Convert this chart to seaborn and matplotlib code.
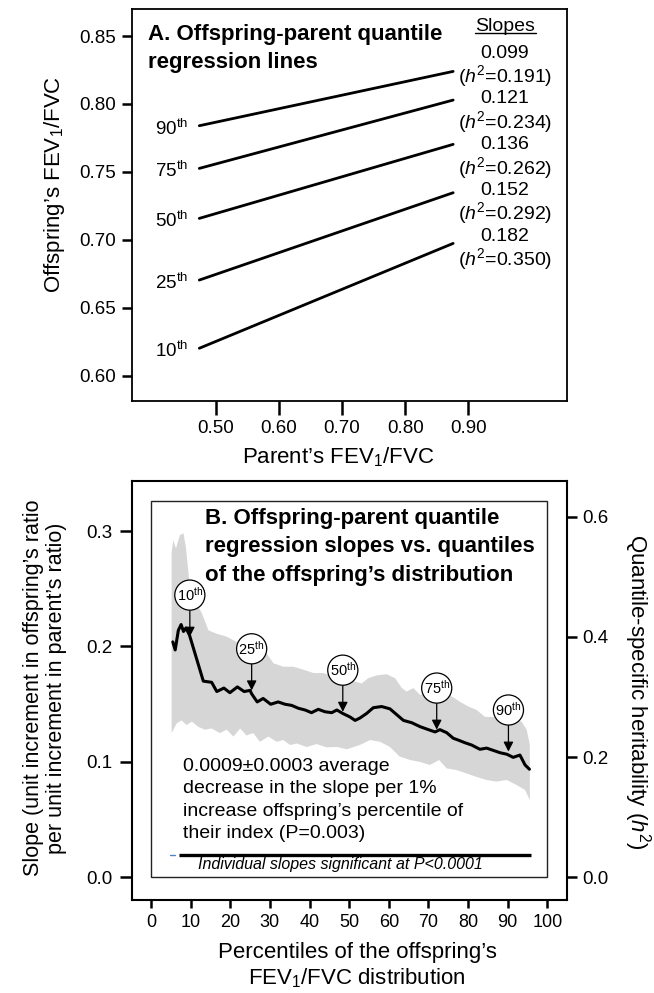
"""Offspring-parent quantile regression figure (panels A and B)."""

import numpy as np
import pandas as pd
import matplotlib
matplotlib.use('Agg')
import matplotlib.pyplot as plt
from matplotlib.patches import Rectangle
import seaborn as sns

# panel A: quantile regression lines
quantiles = ['10', '25', '50', '75', '90']
parent_range = [0.474, 0.876]
offspring_start = [0.6202, 0.6704, 0.7158, 0.7526, 0.7840]
offspring_end = [0.6974, 0.7347, 0.7703, 0.8029, 0.8240]
slope_labels = ['0.182', '0.152', '0.136', '0.121', '0.099']
h2_labels = ['0.350', '0.292', '0.262', '0.234', '0.191']

# panel B: slope vs percentile with its band
pct = [5.5, 6.1, 6.9, 7.6, 8.2, 8.8, 9.7, 11.1, 13.2, 15.3, 16.6, 18.4, 19.9, 21.8,
       23.5, 25.0, 25.4, 26.8, 28.3, 30.2, 32.1, 33.8, 35.5, 37.2, 38.9, 40.5, 42.2,
       43.9, 45.6, 46.9, 48.4, 50.2, 51.5, 52.7, 54.4, 56.1, 58.2, 60.3, 62.0, 63.7,
       65.8, 67.9, 70.0, 71.7, 72.9, 74.6, 76.3, 77.5, 79.2, 80.9, 83.0, 84.7, 86.4,
       88.1, 89.8, 91.4, 93.1, 94.4, 95.5]
slope = [0.204, 0.197, 0.214, 0.219, 0.213, 0.216, 0.210, 0.194, 0.170, 0.169, 0.161,
         0.164, 0.160, 0.165, 0.161, 0.162, 0.159, 0.152, 0.155, 0.150, 0.152, 0.150,
         0.149, 0.1465, 0.145, 0.1427, 0.1456, 0.1435, 0.1427, 0.145, 0.142, 0.139,
         0.136, 0.138, 0.142, 0.147, 0.148, 0.146, 0.141, 0.136, 0.134, 0.1306, 0.128,
         0.126, 0.128, 0.1254, 0.1205, 0.119, 0.1167, 0.1147, 0.111, 0.112, 0.110,
         0.108, 0.1067, 0.104, 0.106, 0.0974, 0.0937]

upper_pct = [5.2, 5.6, 6.3, 7.3, 8.2, 8.8, 9.8, 11.5, 12.8, 14.5, 16.6, 19.1, 21.6, 24.1,
             26.7, 29.2, 30.9, 33.4, 35.9, 38.4, 41.0, 43.5, 46.0, 48.5, 51.0, 53.2, 54.8,
             57.0, 59.5, 61.6, 63.3, 64.5, 66.2, 67.9, 70.0, 72.0, 74.0, 76.3, 78.0, 80.1,
             82.2, 84.3, 86.4, 88.1, 91.4, 93.5, 94.8, 95.6]
upper = [0.281, 0.292, 0.285, 0.2965, 0.298, 0.286, 0.252, 0.237, 0.229, 0.214, 0.211,
         0.2085, 0.204, 0.201, 0.200, 0.194, 0.1855, 0.1825, 0.1825, 0.180, 0.177, 0.177,
         0.174, 0.175, 0.170, 0.168, 0.1725, 0.175, 0.176, 0.1725, 0.164, 0.161, 0.164,
         0.158, 0.160, 0.163, 0.160, 0.156, 0.152, 0.148, 0.145, 0.139, 0.139, 0.135,
         0.136, 0.135, 0.128, 0.115]
lower_pct = [5.2, 6.5, 7.7, 9.0, 10.3, 11.9, 13.6, 15.3, 17.4, 19.1, 20.8, 22.5, 24.1, 25.8,
             27.5, 29.6, 31.7, 33.4, 35.1, 36.8, 39.3, 41.8, 44.3, 46.9, 49.4, 52.7, 55.3,
             57.8, 60.3, 62.8, 65.4, 67.9, 70.4, 72.7, 74.6, 77.1, 79.7, 82.2, 84.7, 87.2,
             89.8, 92.3, 94.4, 95.6]
lower = [0.125, 0.1335, 0.136, 0.132, 0.135, 0.1305, 0.128, 0.129, 0.125, 0.128, 0.122,
         0.129, 0.123, 0.125, 0.1175, 0.122, 0.1175, 0.119, 0.1147, 0.116, 0.113, 0.1155,
         0.1127, 0.113, 0.111, 0.1147, 0.119, 0.1175, 0.113, 0.1046, 0.1017, 0.100,
         0.0974, 0.1017, 0.0945, 0.093, 0.090, 0.087, 0.0844, 0.083, 0.0844, 0.080,
         0.0758, 0.067]

marker_labels = ['10', '25', '50', '75', '90']
marker_x = [9.8, 25.4, 48.4, 72.1, 90.2]
marker_y = [0.2085, 0.162, 0.1435, 0.128, 0.109]
sig_range = [7.1, 95.8]
h2_factor = 1.921

sns.set_style('ticks')
plt.rcParams['font.family'] = ['Liberation Sans', 'DejaVu Sans']
plt.rcParams.update({
    'mathtext.fontset': 'custom',
    'mathtext.rm': 'Liberation Sans',
    'mathtext.it': 'Liberation Sans:italic',
    'mathtext.bf': 'Liberation Sans:bold',
    'axes.edgecolor': 'black', 'xtick.color': 'black', 'ytick.color': 'black',
    'text.color': 'black', 'axes.labelcolor': 'black',
})

fig = plt.figure(figsize=(6.54, 9.93), dpi=100)
axA = fig.add_axes([0.2023, 0.5962, 0.6647, 0.3947])
axB = fig.add_axes([0.2023, 0.0937, 0.6651, 0.4219])

### Panel A ###
rows = []
for q, y0, y1 in zip(quantiles, offspring_start, offspring_end):
    rows.append({'quantile': q, 'parent': parent_range[0], 'offspring': y0})
    rows.append({'quantile': q, 'parent': parent_range[1], 'offspring': y1})
lines = pd.DataFrame(rows)
sns.lineplot(data=lines, x='parent', y='offspring', hue='quantile',
             palette=['black'] * len(quantiles), lw=2.0, legend=False, ax=axA)

axA.set_xlim(0.3679, 1.0563)
axA.set_ylim(0.5814, 0.8699)
axA.set_xticks([0.5, 0.6, 0.7, 0.8, 0.9])
axA.set_xticklabels(['0.50', '0.60', '0.70', '0.80', '0.90'])
axA.set_yticks([0.60, 0.65, 0.70, 0.75, 0.80, 0.85])
axA.set_yticklabels(['0.60', '0.65', '0.70', '0.75', '0.80', '0.85'])
axA.tick_params(axis='y', direction='out', length=7.2, width=1.8, pad=4.5, labelsize=13.5)
axA.tick_params(axis='x', direction='out', length=10, width=1.8, pad=3.5, labelsize=13.5)
axA.set_xlabel('')
axA.set_ylabel('')
for sp in axA.spines.values():
    sp.set_linewidth(1.3)

for q, y0 in zip(quantiles, offspring_start):
    axA.text(0.456, y0 - 0.002, q + r'$^{\rm th}$', ha='right', va='center', fontsize=13.5)

axA.text(0.0368, 0.899, 'A. Offspring-parent quantile\nregression lines', transform=axA.transAxes,
         ha='left', va='center', fontsize=16, fontweight='bold', linespacing=1.45)

col_x = 0.857
axA.text(col_x, (401 - 26) / 392, 'Slopes', transform=axA.transAxes, ha='center', va='center',
         fontsize=14)
axA.plot([0.788, 0.929], [0.939, 0.939], transform=axA.transAxes, color='black', lw=1.0)
for i, (s, h) in enumerate(zip(slope_labels[::-1], h2_labels[::-1])):
    py = 53 + 45.8 * i
    axA.text(col_x, (401 - py) / 392, s, transform=axA.transAxes, ha='center', va='center',
             fontsize=14)
    axA.text(col_x, (401 - py - 23) / 392, r'($\mathit{h}^{2}$=' + h + ')', transform=axA.transAxes,
             ha='center', va='center', fontsize=14)

fig.text(0.084, 0.8147, r'Offspring’s FEV$_{1}$/FVC', rotation=90, ha='center', va='center',
         fontsize=16)
fig.text(0.517, 0.5398, r'Parent’s FEV$_{1}$/FVC', ha='center', va='center', fontsize=16)

### Panel B ###
band_x = np.r_[upper_pct, lower_pct[::-1]]
band_y = np.r_[upper, lower[::-1]]
axB.fill(band_x, band_y, color='#d6d6d6', lw=0, zorder=1)
sns.lineplot(x=pct, y=slope, sort=False, estimator=None, color='black', lw=2.2, ax=axB, zorder=3)

axB.add_patch(Rectangle((0, 0), 100, 0.326, fill=False, ec='#222222', lw=1.0, zorder=2))
axB.plot(sig_range, [0.0195, 0.0195], color='black', lw=2.4, solid_capstyle='butt', zorder=3)
axB.plot([4.8, 6.1], [0.0195, 0.0195], color='#4f86c6', lw=1.0, zorder=3)
axB.text(47.7, 0.0108, 'Individual slopes significant at P<0.0001', ha='center', va='center',
         fontsize=11.5, style='italic')

for lab, tx, ty in zip(marker_labels, marker_x, marker_y):
    axB.annotate(lab + r'$^{\rm th}$', xy=(tx, ty), xytext=(tx, ty + 0.036), ha='center',
                 va='center', fontsize=10.5, zorder=5,
                 bbox=dict(boxstyle='circle,pad=0.13', fc='white', ec='black', lw=0.9),
                 arrowprops=dict(arrowstyle='-|>,head_length=0.55,head_width=0.28', color='black',
                                 lw=0.9, shrinkA=0, shrinkB=0))

axB.text(0.167, 0.8425, 'B. Offspring-parent quantile\nregression slopes vs. quantiles\n'
         'of the offspring’s distribution', transform=axB.transAxes, ha='left', va='center',
         fontsize=16, fontweight='bold', linespacing=1.48)
axB.text(0.117, 0.2387, '0.0009±0.0003 average\ndecrease in the slope per 1%\n'
         'increase offspring’s percentile of\ntheir index (P=0.003)', transform=axB.transAxes,
         ha='left', va='center', fontsize=14, linespacing=1.4)

axB.set_xlim(-4.72, 105.05)
axB.set_ylim(-0.01948, 0.3433)
axB.set_xticks(range(0, 101, 10))
axB.set_yticks([0.0, 0.1, 0.2, 0.3])
axB.set_yticklabels(['0.0', '0.1', '0.2', '0.3'])
axB.tick_params(axis='y', direction='out', length=8.6, width=1.8, pad=5.5, labelsize=13.5)
axB.tick_params(axis='x', direction='out', length=5.8, width=1.8, pad=4, labelsize=13)
axB.set_xlabel('')
axB.set_ylabel('')
for sp in axB.spines.values():
    sp.set_linewidth(1.5)

axR = axB.twinx()
lo, hi = axB.get_ylim()
axR.set_ylim(lo * h2_factor, hi * h2_factor)
axR.set_yticks([0.0, 0.2, 0.4, 0.6])
axR.set_yticklabels(['0.0', '0.2', '0.4', '0.6'])
axR.tick_params(axis='y', direction='out', length=7.2, width=1.8, pad=3.5, labelsize=13.5)
for sp in axR.spines.values():
    sp.set_visible(False)

fig.text(0.0688, 0.3072, 'Slope (unit increment in offspring’s ratio\nper unit increment in parent’s ratio)',
         rotation=90, ha='center', va='center', fontsize=15.5, linespacing=1.1)
fig.text(0.974, 0.3032, r'Quantile-specific heritability ($\mathit{h}^{2}$)', rotation=270,
         ha='center', va='center', fontsize=16)
fig.text(0.546, 0.0272, 'Percentiles of the offspring’s\n' + r'FEV$_{1}$/FVC distribution',
         ha='center', va='center', fontsize=16, linespacing=1.15)

plt.savefig('out.png', dpi=100)
